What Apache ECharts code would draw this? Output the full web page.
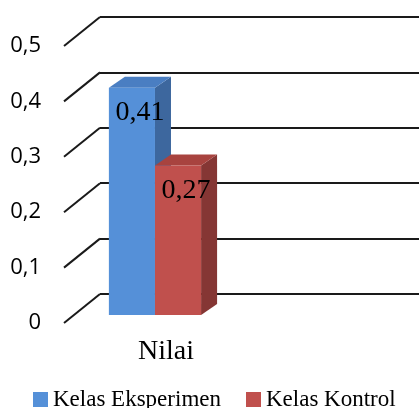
<!DOCTYPE html>
<html>
<head>
<meta charset="utf-8">
<script src="https://cdn.jsdelivr.net/npm/echarts@6/dist/echarts.min.js"></script>
<style>html,body{margin:0;padding:0;background:#fff;}#c{width:419px;height:408px;}</style>
</head>
<body>
<div id="c"></div>
<script>
var categories = ['Nilai'];
var seriesNames = ['Kelas Eksperimen', 'Kelas Kontrol'];
var eksperimen = [0.41];
var kontrol = [0.27];
var tickValues = [0, 0.1, 0.2, 0.3, 0.4, 0.5];
var tickLabels = ['0', '0,1', '0,2', '0,3', '0,4', '0,5'];
var valueLabels = ['0,41', '0,27'];

var DX = 36, DY = 29;        // wall depth
var BDX = 16, BDY = 11;      // bar depth
var faces = [
  {front: '#5590D8', top: '#4A7EC2', side: '#3D679E'},
  {front: '#C0504D', top: '#A8433F', side: '#853634'}
];

function barRender(idx) {
  return function (params, api) {
    var cx = api.coord([api.value(0), 0])[0];
    var base = api.coord([api.value(0), 0])[1] - 8;
    var top = api.coord([api.value(0), api.value(1)])[1] - 8;
    var band = api.size([1, 0])[0];
    var w = band * 0.226;
    var x0 = cx - band * 0.28 + idx * w;
    var x1 = x0 + w;
    var f = faces[idx];
    return {
      type: 'group',
      children: [
        {type: 'polygon', shape: {points: [[x1, top], [x1 + BDX, top - BDY], [x1 + BDX, base - BDY], [x1, base]]}, style: {fill: f.side}},
        {type: 'polygon', shape: {points: [[x0, top], [x1, top], [x1 + BDX, top - BDY], [x0 + BDX, top - BDY]]}, style: {fill: f.top}},
        {type: 'rect', shape: {x: x0, y: top, width: w, height: base - top}, style: {fill: f.front}},
        {type: 'text', x: x0 + (w + BDX) / 2, y: top + 25,
          style: {text: valueLabels[idx], fill: '#000', font: '28px "Liberation Serif"', align: 'center', verticalAlign: 'middle'}}
      ]
    };
  };
}

var chart = echarts.init(document.getElementById('c'), null, {renderer: 'canvas'});
chart.setOption({
  animation: false,
  backgroundColor: '#fff',
  grid: [
    {left: 100, right: 0, top: 17, bottom: 114},
    {left: 64, right: 151, top: 46, bottom: 85}
  ],
  xAxis: [
    {gridIndex: 0, type: 'value', min: 0, max: 1, show: false},
    {gridIndex: 1, type: 'category', data: categories,
      axisLine: {show: false}, axisTick: {show: false},
      axisLabel: {margin: 15, color: '#000', fontFamily: 'Liberation Serif', fontSize: 28}}
  ],
  yAxis: [
    {gridIndex: 0, type: 'value', min: 0, max: 0.5, interval: 0.1,
      axisLine: {show: false}, axisTick: {show: false}, axisLabel: {show: false},
      splitLine: {show: true, lineStyle: {color: '#1a1a1a', width: 2}}},
    {gridIndex: 1, type: 'value', min: 0, max: 0.5, interval: 0.1,
      axisLine: {show: false}, axisTick: {show: false}, splitLine: {show: false},
      axisLabel: {margin: 23, color: '#000', fontFamily: 'Open Sans', fontSize: 22, padding: [4, 0, 0, 0],
        formatter: function (v) { var i = Math.round(v * 10); return tickLabels[i]; }}}
  ],
  legend: {
    data: seriesNames, top: 388, left: 33, padding: 0, icon: 'rect', itemWidth: 15, itemHeight: 15, itemGap: 25,
    textStyle: {fontFamily: 'Liberation Serif', fontSize: 23, color: '#000'}
  },
  series: [
    {type: 'custom', name: 'walls', xAxisIndex: 0, yAxisIndex: 0, silent: true,
      data: tickValues.map(function (v) { return [0, v]; }),
      renderItem: function (params, api) {
        var p = api.coord([0, api.value(1)]);
        return {type: 'line', shape: {x1: p[0] - DX, y1: p[1] + DY, x2: p[0], y2: p[1]},
          style: {stroke: '#1a1a1a', lineWidth: 2}};
      }},
    {type: 'custom', name: seriesNames[0], xAxisIndex: 1, yAxisIndex: 1, itemStyle: {color: faces[0].front},
      data: categories.map(function (c, i) { return [c, eksperimen[i]]; }), renderItem: barRender(0), z: 3},
    {type: 'custom', name: seriesNames[1], xAxisIndex: 1, yAxisIndex: 1, itemStyle: {color: faces[1].front},
      data: categories.map(function (c, i) { return [c, kontrol[i]]; }), renderItem: barRender(1), z: 4}
  ]
});
</script>
</body>
</html>
